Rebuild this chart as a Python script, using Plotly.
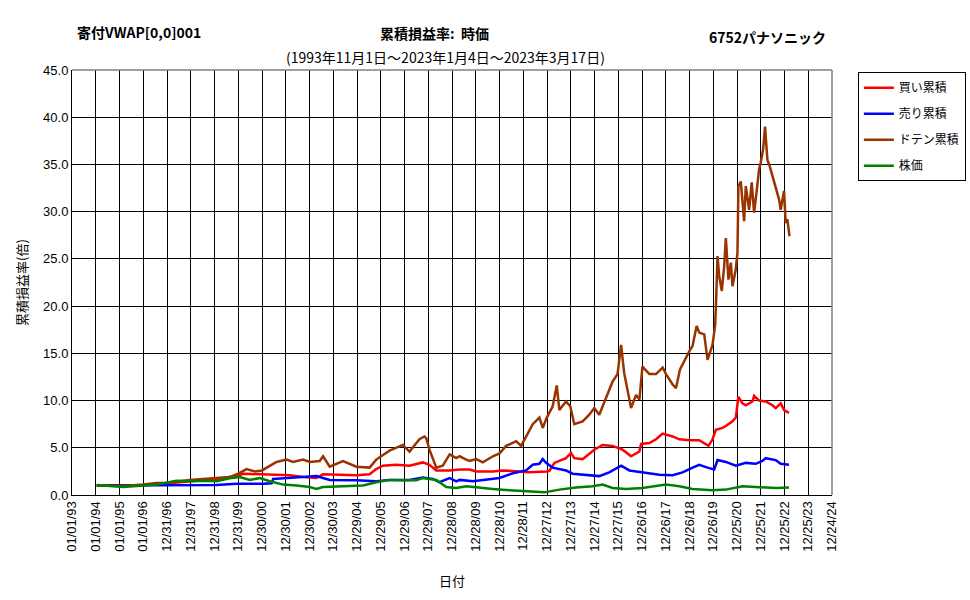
import pandas as pd
import plotly.graph_objects as go

# ---- data (decimal year, value) ----
TICK_LABELS = ["01/01/93", "01/01/94", "01/01/95", "01/01/96", "12/31/96", "12/31/97",
               "12/31/98", "12/31/99", "12/30/00", "12/30/01", "12/30/02", "12/30/03",
               "12/29/04", "12/29/05", "12/29/06", "12/29/07", "12/28/08", "12/28/09",
               "12/28/10", "12/28/11", "12/27/12", "12/27/13", "12/27/14", "12/27/15",
               "12/26/16", "12/26/17", "12/26/18", "12/26/19", "12/25/20", "12/25/21",
               "12/25/22", "12/25/23", "12/24/24"]
Y_TICKS = [0, 5, 10, 15, 20, 25, 30, 35, 40, 45]

buy_t = [1994.04, 1994.60, 1995.16, 1996.0, 1996.56, 1997.40, 1997.96, 1998.52, 1999.08,
         1999.64, 1999.93, 2000.20, 2001.05, 2002.17, 2002.73, 2003.29, 2003.57, 2004.41,
         2004.97, 2005.53, 2005.81, 2006.09, 2006.65, 2007.21, 2007.77, 2008.05, 2008.34,
         2008.90, 2009.32, 2009.74, 2010.02, 2010.72, 2011.14, 2011.84, 2012.26, 2012.99,
         2013.10, 2013.31, 2013.52, 2013.80, 2014.01, 2014.15, 2014.50, 2014.78, 2014.99,
         2015.34, 2015.76, 2016.18, 2016.33, 2016.54, 2016.89, 2016.96, 2017.31, 2017.59,
         2017.87, 2018.29, 2018.57, 2018.99, 2019.41, 2019.62, 2019.80, 2019.97, 2020.11,
         2020.39, 2020.53, 2020.81, 2020.95, 2021.06, 2021.23, 2021.37, 2021.65, 2021.72,
         2021.93, 2022.21, 2022.49, 2022.63, 2022.84, 2022.98, 2023.19]
buy_v = [1.0, 1.0, 1.0, 1.05, 1.15, 1.3, 1.45, 1.55, 1.7,
         1.9, 2.0, 2.25, 2.2, 2.1, 1.9, 1.8, 2.2, 2.1,
         2.1, 2.2, 2.75, 3.1, 3.2, 3.1, 3.45, 3.2, 2.6,
         2.6, 2.7, 2.7, 2.5, 2.5, 2.6, 2.5, 2.4, 2.5,
         2.55, 3.4, 3.6, 3.9, 4.45, 3.9, 3.8, 4.4, 4.8,
         5.3, 5.2, 4.8, 4.5, 4.1, 4.6, 5.4, 5.5, 5.9,
         6.5, 6.2, 5.9, 5.8, 5.8, 5.5, 5.2, 5.9, 6.9,
         7.1, 7.3, 7.8, 8.2, 10.4, 9.7, 9.5, 9.9, 10.5,
         10.0, 9.9, 9.5, 9.2, 9.7, 9.0, 8.7]

sell_t = [1994.04, 1995.16, 1996.0, 1997.0, 1998.0, 1999.08, 1999.93, 2000.77, 2001.05,
          2001.40, 2001.47, 2001.61, 2002.17, 2002.73, 2003.29, 2003.57, 2003.85, 2004.97,
          2005.81, 2006.37, 2007.21, 2007.77, 2008.19, 2008.47, 2008.90, 2009.18, 2009.32,
          2009.88, 2010.44, 2011.0, 2011.56, 2012.12, 2012.40, 2012.68, 2012.82, 2012.96,
          2013.24, 2013.80, 2014.08, 2014.64, 2015.20, 2015.62, 2016.12, 2016.47, 2017.02,
          2017.73, 2018.29, 2018.71, 2019.13, 2019.41, 2019.76, 2020.04, 2020.18, 2020.53,
          2020.95, 2021.37, 2021.79, 2022.07, 2022.21, 2022.63, 2022.84, 2023.19]
sell_v = [1.0, 1.0, 1.0, 1.02, 1.0, 1.06, 1.2, 1.17, 1.2,
          1.25, 1.7, 1.73, 1.8, 1.9, 2.0, 1.8, 1.6, 1.55,
          1.45, 1.6, 1.6, 1.85, 1.7, 1.35, 1.8, 1.45, 1.6,
          1.45, 1.6, 1.8, 2.3, 2.6, 3.2, 3.3, 3.8, 3.4,
          2.9, 2.6, 2.26, 2.15, 2.0, 2.4, 3.1, 2.6, 2.4,
          2.15, 2.1, 2.4, 2.9, 3.2, 2.9, 2.7, 3.7, 3.5,
          3.1, 3.4, 3.3, 3.6, 3.9, 3.7, 3.3, 3.2]

doten_t = [1994.04, 1994.60, 1995.16, 1996.0, 1996.56, 1996.98, 1997.40, 1997.96, 1998.52,
           1998.94, 1999.64, 2000.02, 2000.35, 2000.70, 2001.0, 2001.61, 2002.03, 2002.31,
           2002.73, 2003.01, 2003.43, 2003.57, 2003.85, 2004.41, 2004.97, 2005.53, 2005.81,
           2006.37, 2006.93, 2007.21, 2007.63, 2007.84, 2007.92, 2008.05, 2008.34, 2008.61,
           2008.90, 2009.18, 2009.32, 2009.60, 2009.74, 2010.02, 2010.30, 2010.72, 2011.0,
           2011.28, 2011.70, 2011.91, 2012.12, 2012.40, 2012.68, 2012.82, 2012.99, 2013.24,
           2013.41, 2013.52, 2013.80, 2013.98, 2014.15, 2014.50, 2014.78, 2014.99, 2015.20,
           2015.49, 2015.76, 2015.97, 2016.12, 2016.25, 2016.39, 2016.54, 2016.75, 2016.89,
           2017.02, 2017.31, 2017.59, 2017.87, 2018.01, 2018.29, 2018.43, 2018.60, 2018.99,
           2019.13, 2019.30, 2019.41, 2019.62, 2019.76, 2019.97, 2020.08, 2020.11, 2020.18,
           2020.25, 2020.36, 2020.46, 2020.53, 2020.64, 2020.74, 2020.81, 2020.95, 2021.02,
           2021.06, 2021.16, 2021.23, 2021.30, 2021.37, 2021.51, 2021.62, 2021.72, 2021.82,
           2021.93, 2022.00, 2022.10, 2022.18, 2022.28, 2022.38, 2022.49, 2022.63, 2022.77,
           2022.84, 2022.98, 2023.05, 2023.12, 2023.19, 2023.21]
doten_v = [1.0, 1.0, 0.95, 1.1, 1.27, 1.3, 1.45, 1.6, 1.7,
           1.75, 1.9, 2.3, 2.75, 2.5, 2.6, 3.5, 3.75, 3.5,
           3.75, 3.5, 3.6, 4.1, 3.0, 3.6, 3.0, 2.9, 3.75,
           4.7, 5.3, 4.6, 5.9, 6.2, 6.0, 4.8, 2.9, 3.1,
           4.3, 3.9, 4.1, 3.75, 3.6, 3.8, 3.45, 4.1, 4.4,
           5.2, 5.7, 5.2, 6.2, 7.5, 8.2, 7.1, 8.2, 9.4,
           11.6, 9.0, 9.9, 9.4, 7.5, 7.8, 8.5, 9.2, 8.5,
           10.3, 12.0, 12.8, 15.9, 12.9, 11.2, 9.2, 10.6, 10.1,
           13.6, 12.8, 12.8, 13.5, 12.8, 11.7, 11.3, 13.3, 15.2,
           15.8, 17.9, 17.2, 17.0, 14.3, 15.9, 18.0, 19.8, 25.3,
           23.2, 21.6, 24.2, 27.2, 22.8, 24.6, 22.1, 23.9, 25.7,
           32.7, 33.2, 30.6, 29.0, 32.7, 30.2, 33.1, 29.9, 32.0,
           34.5, 35.2, 36.6, 39.0, 35.5, 34.8, 33.8, 32.4, 31.3,
           30.2, 32.2, 28.8, 29.2, 27.8, 27.4]

price_t = [1994.04, 1994.60, 1995.16, 1996.0, 1996.56, 1997.40, 1997.96, 1998.52, 1999.08,
           1999.64, 2000.06, 2000.49, 2000.91, 2001.33, 2001.89, 2002.45, 2003.01, 2003.29,
           2003.57, 2004.41, 2005.25, 2005.81, 2006.37, 2006.93, 2007.49, 2007.77, 2008.34,
           2008.76, 2009.18, 2009.60, 2010.02, 2010.72, 2011.42, 2012.12, 2012.89, 2013.52,
           2014.22, 2014.92, 2015.34, 2015.76, 2016.33, 2017.02, 2017.73, 2018.01, 2018.57,
           2019.13, 2019.97, 2020.53, 2021.23, 2021.93, 2022.63, 2023.19]
price_v = [1.06, 0.92, 0.85, 1.0, 1.1, 1.5, 1.45, 1.5, 1.45,
           1.77, 1.9, 1.6, 1.8, 1.45, 1.1, 1.0, 0.85, 0.64,
           0.85, 0.92, 1.0, 1.35, 1.6, 1.55, 1.55, 1.8, 1.6,
           0.85, 0.74, 0.92, 0.8, 0.64, 0.5, 0.39, 0.28, 0.57,
           0.8, 0.92, 1.1, 0.74, 0.64, 0.74, 1.0, 1.1, 0.92,
           0.64, 0.5, 0.57, 0.92, 0.85, 0.74, 0.8]

SERIES = [("買い累積", buy_t, buy_v, "#FF0000"),
          ("売り累積", sell_t, sell_v, "#0000FF"),
          ("ドテン累積", doten_t, doten_v, "#993300"),
          ("株価", price_t, price_v, "#008000")]

BASE = pd.Timestamp("1993-01-01")


def to_dates(years):
    # axis gridlines sit every 365 days from 1993-01-01
    return [BASE + pd.Timedelta(days=(y - 1993.0) * 365.0) for y in years]


tick_dates = [pd.to_datetime(s, format="%m/%d/%y") for s in TICK_LABELS]

FONT = "Liberation Sans, Noto Sans CJK JP, sans-serif"
JFONT = "Noto Sans CJK JP, sans-serif"

fig = go.Figure()
for name, t, v, col in SERIES:
    fig.add_trace(go.Scatter(x=to_dates(t), y=v, mode="lines", name=name,
                             legendgroup=name,
                             line=dict(color=col, width=2.5)))

fig.update_layout(
    width=970, height=600,
    margin=dict(l=72, r=138, t=70, b=105, autoexpand=False),
    paper_bgcolor="white", plot_bgcolor="white",
    font=dict(family=FONT, size=12, color="black"),
    showlegend=True,
    legend=dict(x=1.034, xanchor="left", y=0.995, yanchor="top",
                bordercolor="black", borderwidth=1, bgcolor="white",
                font=dict(family=JFONT, size=12), itemwidth=30,
                tracegroupgap=7, traceorder="grouped"),
    xaxis=dict(type="date", range=[tick_dates[0], tick_dates[-1]],
               tickmode="array", tickvals=tick_dates, ticktext=TICK_LABELS,
               tickangle=-90, tickfont=dict(size=13),
               showgrid=True, gridcolor="black", gridwidth=1,
               showline=True, linecolor="black", linewidth=1,
               zeroline=False, ticks="",
               title=dict(text="日付", font=dict(family=JFONT, size=13), standoff=26)),
    yaxis=dict(range=[0, 45], tickmode="array", tickvals=Y_TICKS,
               tickformat=".1f", tickfont=dict(size=13),
               showgrid=True, gridcolor="black", gridwidth=1,
               showline=True, linecolor="black", linewidth=1,
               zeroline=False, ticks="",
               title=dict(text="累積損益率(倍)", font=dict(family=JFONT, size=13), standoff=12)),
)

# gray top / right border of the plot area
fig.add_shape(type="line", xref="paper", yref="paper", x0=0, x1=1, y0=1, y1=1,
              line=dict(color="#808080", width=1.5))
fig.add_shape(type="line", xref="paper", yref="paper", x0=1, x1=1, y0=0, y1=1,
              line=dict(color="#808080", width=1.5))

# titles (pixel positions converted to paper coordinates)
def px(xp):
    return (xp - 72) / 760.0


def py(yp):
    return (495 - yp) / 425.0


fig.add_annotation(text="<b>寄付VWAP[0,0]001</b>", x=px(75), y=py(32), xref="paper", yref="paper",
                   xanchor="left", yanchor="middle", showarrow=False,
                   font=dict(family=JFONT, size=14))
fig.add_annotation(text="<b>累積損益率:  時価</b>", x=px(434), y=py(33), xref="paper", yref="paper",
                   xanchor="center", yanchor="middle", showarrow=False,
                   font=dict(family=JFONT, size=14))
fig.add_annotation(text="<b>6752パナソニック</b>", x=px(828), y=py(37), xref="paper", yref="paper",
                   xanchor="right", yanchor="middle", showarrow=False,
                   font=dict(family=JFONT, size=14))
fig.add_annotation(text="(1993年11月1日～2023年1月4日～2023年3月17日)", x=px(445), y=py(57),
                   xref="paper", yref="paper", xanchor="center", yanchor="middle",
                   showarrow=False, font=dict(family=JFONT, size=14))

fig.write_html("out.html")
